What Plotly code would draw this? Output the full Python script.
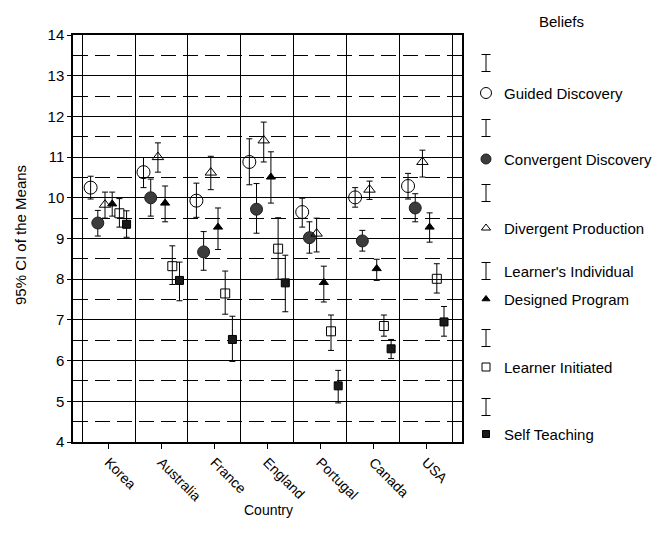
import plotly.graph_objects as go

countries = ["Korea", "Australia", "France", "England", "Portugal", "Canada", "USA"]
series_names = ["Guided Discovery", "Convergent Discovery", "Divergent Production",
                "Learner's Individual Designed Program", "Learner Initiated", "Self Teaching"]

gd_mean = [10.25, 10.63, 9.93, 10.88, 9.65, 10.01, 10.29]
gd_hi = [10.53, 10.99, 10.36, 11.45, 9.99, 10.25, 10.60]
gd_lo = [9.97, 10.25, 9.52, 10.32, 9.28, 9.77, 9.97]

cd_mean = [9.38, 10.00, 8.67, 9.72, 9.02, 8.94, 9.75]
cd_hi = [9.69, 10.46, 9.17, 10.35, 9.41, 9.20, 10.10]
cd_lo = [9.06, 9.55, 8.22, 9.13, 8.64, 8.69, 9.41]

dp_mean = [9.83, 11.00, 10.62, 11.41, 9.12, 10.20, 10.88]
dp_hi = [10.14, 11.35, 11.02, 11.86, 9.50, 10.41, 11.17]
dp_lo = [9.50, 10.63, 10.20, 10.88, 8.67, 9.96, 10.51]

lid_mean = [9.85, 9.87, 9.28, 10.51, 7.92, 8.26, 9.28]
lid_hi = [10.14, 10.29, 9.75, 11.13, 8.32, 8.49, 9.63]
lid_lo = [9.55, 9.41, 8.73, 9.87, 7.44, 7.97, 8.91]

li_mean = [9.62, 8.32, 7.65, 8.75, 6.72, 6.85, 8.01]
li_hi = [9.98, 8.82, 8.20, 9.51, 7.12, 7.12, 8.38]
li_lo = [9.28, 7.87, 7.14, 8.00, 6.25, 6.60, 7.66]

st_mean = [9.35, 7.97, 6.52, 7.91, 5.38, 6.29, 6.95]
st_hi = [9.68, 8.42, 7.09, 8.59, 5.76, 6.52, 7.33]
st_lo = [9.03, 7.47, 5.98, 7.20, 4.96, 6.05, 6.60]

y_ticks = [4, 5, 6, 7, 8, 9, 10, 11, 12, 13, 14]

legend_title = "Beliefs"
legend_labels = ["Guided Discovery", "Convergent Discovery", "Divergent Production",
                 "Designed Program", "Learner Initiated", "Self Teaching"]
legend_extra = "Learner's Individual"
x_title = "Country"
y_title = "95% CI of the Means"

means = [gd_mean, cd_mean, dp_mean, lid_mean, li_mean, st_mean]
his = [gd_hi, cd_hi, dp_hi, lid_hi, li_hi, st_hi]
los = [gd_lo, cd_lo, dp_lo, lid_lo, li_lo, st_lo]

styles = [
    dict(symbol="circle-open", size=13, color="black", line=dict(color="black", width=1)),
    dict(symbol="circle", size=12, color="#3c3c3c", line=dict(color="#1e1e1e", width=1)),
    dict(symbol="triangle-up-open", size=10, color="black", line=dict(color="black", width=1)),
    dict(symbol="triangle-up", size=8, color="black", line=dict(color="black", width=1)),
    dict(symbol="square-open", size=9, color="black", line=dict(color="black", width=1)),
    dict(symbol="square", size=8, color="#1a1a1a", line=dict(color="black", width=1)),
]
legend_sizes = [11, 10, 8, 7, 8, 7]

FONT = "Arial, Liberation Sans, sans-serif"

# page offset (body margin) compensation
OFF = 8
W, H = 666 - 2 * OFF, 542 - 2 * OFF
ML, MR, MT, MB = 65, 4, 27, 92
pw = W - ML - MR
ph = H - MT - MB
main_frac = 389 / pw
leg_dom0 = 0.70
px0 = ML + leg_dom0 * pw
px1 = ML + pw


def px_x(ref_x):
    return ref_x - OFF


def px_y(ref_y):
    return ref_y - OFF


def paper_x(ref_x):
    return (px_x(ref_x) - ML) / pw


def paper_y(ref_y):
    return (H - MB - px_y(ref_y)) / ph


fig = go.Figure()

n = len(series_names)
step = 0.136
for k in range(n):
    off = (k - (n - 1) / 2) * step
    xs = [i + off for i in range(len(countries))]
    fig.add_trace(go.Scatter(
        x=xs, y=means[k], mode="markers", name=series_names[k], showlegend=False,
        marker=styles[k],
        error_y=dict(type="data", symmetric=False,
                     array=[h - m for h, m in zip(his[k], means[k])],
                     arrayminus=[m - l for m, l in zip(means[k], los[k])],
                     color="black", thickness=1, width=3),
        xaxis="x", yaxis="y"))

# Custom legend in a pixel-scaled auxiliary axis
sym_x = px_x(486)
txt_x = px_x(502)
bar_rows = [px_y(v) for v in [63, 128, 193, 271, 338, 407]]
mark_rows = [px_y(v) for v in [93, 159, 228, 299, 367, 434]]

fig.add_trace(go.Scatter(
    x=[sym_x] * len(bar_rows), y=bar_rows, mode="markers", showlegend=False,
    marker=dict(size=1, color="rgba(0,0,0,0)"),
    error_y=dict(type="constant", value=8.5, color="black", thickness=1, width=4.5),
    xaxis="x2", yaxis="y2", hoverinfo="skip"))
for k in range(n):
    st = dict(styles[k])
    st["size"] = legend_sizes[k]
    fig.add_trace(go.Scatter(
        x=[sym_x], y=[mark_rows[k]], mode="markers", showlegend=False,
        marker=st, xaxis="x2", yaxis="y2", hoverinfo="skip"))

LFONT = dict(family=FONT, size=15, color="black")
annotations = []
for k in range(n):
    annotations.append(dict(x=txt_x, y=mark_rows[k], xref="x2", yref="y2", text=legend_labels[k],
                            showarrow=False, xanchor="left", yanchor="middle", font=LFONT))
annotations.append(dict(x=txt_x, y=bar_rows[3], xref="x2", yref="y2", text=legend_extra,
                        showarrow=False, xanchor="left", yanchor="middle", font=LFONT))
annotations.append(dict(x=paper_x(561), y=paper_y(21), xref="paper", yref="paper",
                        text=legend_title, showarrow=False, xanchor="center", yanchor="middle",
                        font=LFONT))
annotations.append(dict(x=paper_x(268), y=paper_y(510), xref="paper", yref="paper",
                        text=x_title, showarrow=False, xanchor="center", yanchor="middle",
                        font=dict(family=FONT, size=14, color="black")))
annotations.append(dict(x=paper_x(21), y=paper_y(235), xref="paper", yref="paper",
                        text=y_title, showarrow=False, textangle=-90,
                        xanchor="center", yanchor="middle",
                        font=dict(family=FONT, size=15, color="black")))

fig.update_layout(
    width=W, height=H,
    margin=dict(l=ML, r=MR, t=MT, b=MB),
    paper_bgcolor="white", plot_bgcolor="white",
    font=dict(family=FONT, size=14, color="black"),
    annotations=annotations,
    xaxis=dict(
        domain=[0, main_frac],
        range=[-0.673, 6.68],
        tickmode="array", tickvals=list(range(len(countries))), ticktext=countries,
        tickangle=45, ticks="outside", ticklen=5, tickcolor="black", tickwidth=1,
        tickfont=dict(family=FONT, size=14, color="black"),
        showgrid=False, zeroline=False,
        showline=True, linecolor="black", linewidth=1.5, mirror=True,
        minor=dict(tickmode="linear", tick0=0.5, dtick=1, showgrid=True,
                   gridcolor="black", gridwidth=1, ticks=""),
    ),
    yaxis=dict(
        range=[4, 14],
        tickmode="array", tickvals=y_ticks,
        ticks="outside", ticklen=4, tickcolor="black", tickwidth=1,
        tickfont=dict(family=FONT, size=15, color="black"),
        showgrid=True, gridcolor="black", gridwidth=1, zeroline=False,
        showline=True, linecolor="black", linewidth=1.5, mirror=True,
        minor=dict(tickmode="linear", tick0=4.5, dtick=1, showgrid=True,
                   gridcolor="black", gridwidth=1, griddash="15px,7px", ticks=""),
    ),
    xaxis2=dict(domain=[leg_dom0, 1], range=[px0, px1], visible=False, fixedrange=True),
    yaxis2=dict(domain=[0, 1], range=[H - MB, MT], visible=False, fixedrange=True, anchor="x2"),
)

fig.write_html("out.html")
